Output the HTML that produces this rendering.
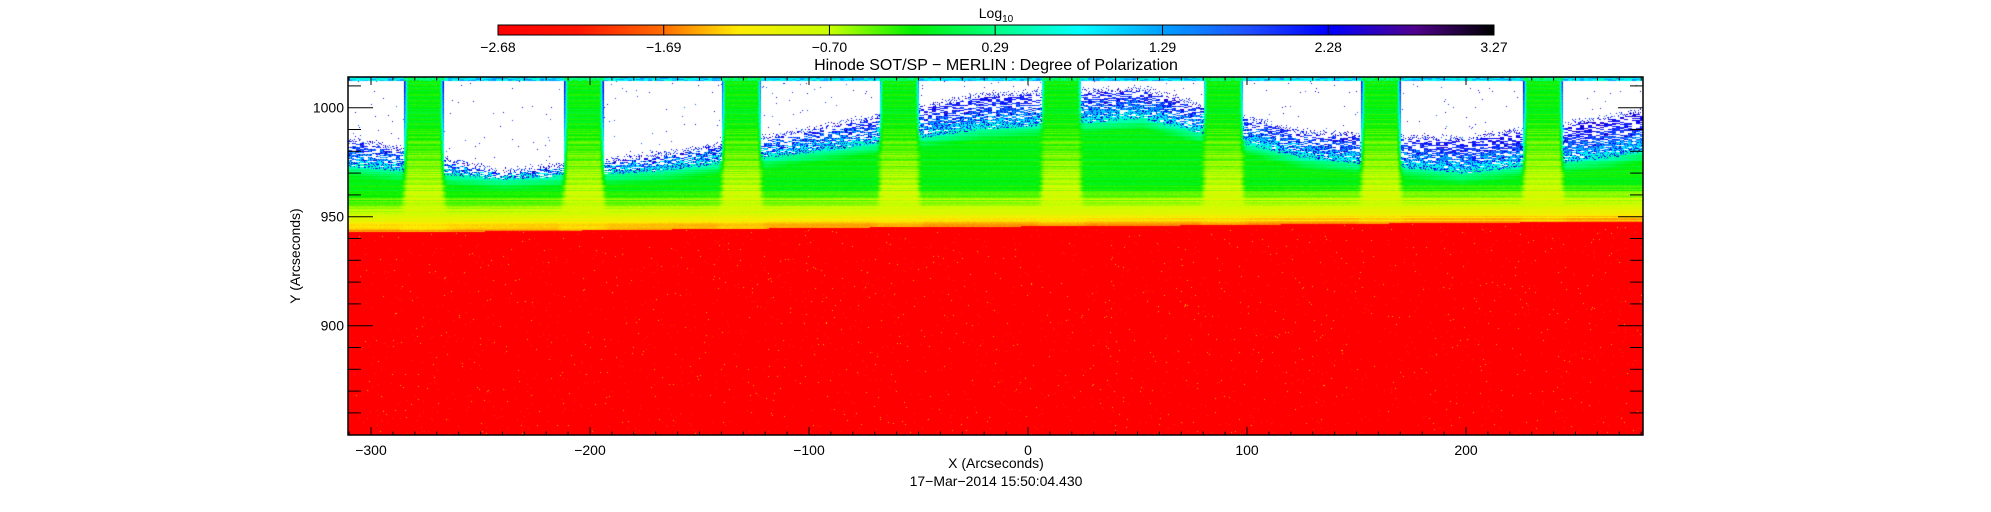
<!DOCTYPE html>
<html><head><meta charset="utf-8"><style>
html,body{margin:0;padding:0;background:#fff;}
#wrap{position:relative;width:1991px;height:512px;overflow:hidden;font-family:"Liberation Sans",sans-serif;color:#000;}
canvas{position:absolute;}
svg{position:absolute;left:0;top:0;}
</style></head><body>
<div id="wrap">
<canvas id="cbar" width="996" height="10" style="left:498px;top:25px"></canvas>
<canvas id="img" width="1295" height="358" style="left:348px;top:77px"></canvas>
<svg id="ov" width="1991" height="512"></svg>
</div>
<script>
// ---- data ----
const cbarTicks = [-2.68, -1.69, -0.70, 0.29, 1.29, 2.28, 3.27];
const xTicks = [-300, -200, -100, 0, 100, 200];
const yTicks = [900, 950, 1000];
const bandCenters = [-276, -203, -131, -59, 15, 89, 161, 235];
const bandHalfWidths = [9, 9, 9, 9, 9, 9, 9, 9];
const gapCenters = [-310, -240, -167, -95, -22, 52, 125, 198, 265, 281];
const gapGreenTops = [968, 962, 966, 975, 985, 990, 972, 965, 972, 975];
const gapWhiteStarts = [985, 970, 978, 990, 1005, 1008, 988, 985, 995, 998];
const boundaryX = [-310, -240, -150, -50, 50, 150, 281];
const boundaryY = [943, 943.5, 944.5, 945.5, 946, 947, 948];
const vMin = -2.68, vMax = 3.27;

// ---- axes ----
const PL = 348, PT = 77, PW = 1295, PH = 358;
function xPix(v){ return 1028 + 2.19 * v; }
function yPix(v){ return 107.7 + (1000 - v) * 2.18; }
function xVal(px){ return (px - 1028) / 2.19; }
function yVal(py){ return 1000 - (py - 107.7) / 2.18; }

const cmStops = [[-2.68,[255,0,0]],[-2.2,[255,20,0]],[-1.69,[255,110,0]],[-1.25,[255,235,0]],[-0.70,[200,255,0]],[-0.2,[0,240,0]],[0.29,[0,255,130]],[0.8,[0,255,255]],[1.29,[0,160,255]],[1.8,[30,80,255]],[2.28,[0,0,255]],[2.8,[80,0,140]],[3.27,[0,0,0]]];
function cmap(v){
  if(v<=cmStops[0][0]) return cmStops[0][1];
  for(let i=1;i<cmStops.length;i++){
    if(v<=cmStops[i][0]){const a=cmStops[i-1],b=cmStops[i];const t=(v-a[0])/(b[0]-a[0]);
      return [0,1,2].map(k=>Math.round(a[1][k]+(b[1][k]-a[1][k])*t));}
  }
  return cmStops[cmStops.length-1][1];
}
function interp(xs, ys, x){
  if(x<=xs[0]) return ys[0];
  for(let i=1;i<xs.length;i++) if(x<=xs[i]){const t=(x-xs[i-1])/(xs[i]-xs[i-1]);return ys[i-1]+(ys[i]-ys[i-1])*t;}
  return ys[ys.length-1];
}
function hash(a,b){let h=(a*374761393+b*668265263)|0;h=(h^(h>>>13))*1274126177|0;h=h^(h>>>16);return ((h>>>0)%100000)/100000;}
function smooth(e0,e1,x){const t=Math.min(1,Math.max(0,(x-e0)/(e1-e0)));return t*t*(3-2*t);}

(function(){
  const c=document.getElementById('cbar'),g=c.getContext('2d');
  for(let i=0;i<c.width;i++){const v=vMin+(vMax-vMin)*i/(c.width-1);const col=cmap(v);g.fillStyle=`rgb(${col})`;g.fillRect(i,0,1,c.height);}
})();

(function(){
  const c=document.getElementById('img'),g=c.getContext('2d');
  const im=g.createImageData(PW,PH),d=im.data;
  for(let py=0;py<PH;py++){
    const Y=yVal(py+PT);
    const rowN=hash(py,7)*0.3-0.15;
    for(let px=0;px<PW;px++){
      const X=xVal(px+PL);
      const b=interp(boundaryX,boundaryY,X);
      let col;
      if(Y<b){
        const r=hash(px,py+999);
        col = r>0.997 ? cmap(-1.5) : (r>0.99 ? cmap(-2.1) : cmap(-2.68));
      } else {
        const dd=Y-b;
        let w=0;
        for(let i=0;i<bandCenters.length;i++){
          const hw=bandHalfWidths[i]+Math.max(0,960-Y)*0.12;
          const dist=Math.abs(X-bandCenters[i]);
          w=Math.max(w,1-smooth(hw-2,hw+2,dist));
        }
        const gt=interp(gapCenters,gapGreenTops,X);
        const ws=interp(gapCenters,gapWhiteStarts,X);
        let gapV = dd<6 ? -1.55+dd*0.1 : -0.95+Math.min(1,(dd-6)/12)*0.8;
        if(Y>gt) gapV=-0.15+(Y-gt)*0.12;
        let bandV = dd<8 ? -1.45+dd*0.08 : -0.85+Math.min(1,(dd-8)/45)*0.7;
        let val=w*bandV+(1-w)*gapV+rowN+(hash(px,py)-0.5)*0.1;
        col=cmap(val);
        if(w<0.5){
          const seg=hash(Math.floor(px/4),py*3+1);
          if(Y>ws){
            const p=hash(px,py+50);
            if(Y>1012.3) col=cmap(0.5+seg*0.9);
            else if(p<0.005+0.35*Math.max(0,1-(Y-ws)/3)) col=cmap(1.6+seg*1.1);
            else col=[255,255,255];
          } else if(Y>gt+5){
            const f=(Y-gt-5)/Math.max(1,ws-gt-5);
            const p=hash(px,py+77);
            if(seg<f*0.6) col=[255,255,255];
            else if(p<0.3+f*0.4) col=cmap(1.3+seg*1.3);
          }
        } else if(Y>1012.3){ col=cmap(-0.2+hash(px,py)*0.8); }
      }
      const k=(py*PW+px)*4;d[k]=col[0];d[k+1]=col[1];d[k+2]=col[2];d[k+3]=255;
    }
  }
  g.putImageData(im,0,0);
})();

(function(){
  const s=document.getElementById('ov');const NS='http://www.w3.org/2000/svg';
  function el(t,a,txt){const e=document.createElementNS(NS,t);for(const k in a)e.setAttribute(k,a[k]);if(txt!==undefined)e.textContent=txt;s.appendChild(e);return e;}
  let e;
  e=el('rect',{x:498,y:25,width:996,height:10,fill:'none',stroke:'#000','stroke-width':1});
  
  
  cbarTicks.forEach((v,i)=>{
    const x=498+996*(v-vMin)/(vMax-vMin);
    el('line',{x1:x,y1:25,x2:x,y2:35,stroke:'#000','stroke-width':1});
    e=el('text',{x:x,y:52,'font-size':14,'text-anchor':'middle'},v.toFixed(2).replace('-','\u2212'));
    
    
  });
  e=el('text',{x:996,y:18,'font-size':14,'text-anchor':'middle'});
  e.innerHTML='Log<tspan font-size="10" dy="4">10</tspan>';
  
  
  e=el('text',{x:996,y:70,'font-size':16,'text-anchor':'middle'},'Hinode SOT/SP \u2212 MERLIN : Degree of Polarization');
  
  
  e=el('rect',{x:PL,y:PT,width:PW,height:PH,fill:'none',stroke:'#000','stroke-width':1.5});
  
  
  for(let v=-310;v<=280;v+=10){
    const x=xPix(v);if(x<PL||x>PL+PW)continue;
    const major=v%100===0;const L=major?8:3.5;
    el('line',{x1:x,y1:PT+PH,x2:x,y2:PT+PH-L,stroke:'#000','stroke-width':1});
    el('line',{x1:x,y1:PT,x2:x,y2:PT+L,stroke:'#000','stroke-width':1});
  }
  xTicks.forEach(v=>{
    e=el('text',{x:xPix(v),y:PT+PH+20,'font-size':14,'text-anchor':'middle'},String(v).replace('-','\u2212'));
    
    
  });
  for(let v=860;v<=1010;v+=10){
    const y=yPix(v);const major=v%50===0;const L=major?25:13;
    el('line',{x1:PL,y1:y,x2:PL+L,y2:y,stroke:'#000','stroke-width':1});
    el('line',{x1:PL+PW,y1:y,x2:PL+PW-L,y2:y,stroke:'#000','stroke-width':1});
  }
  yTicks.forEach(v=>{
    e=el('text',{x:PL-4,y:yPix(v)+5,'font-size':14,'text-anchor':'end'},String(v));
    
    
  });
  e=el('text',{x:996,y:468,'font-size':14,'text-anchor':'middle'},'X (Arcseconds)');
  
  
  e=el('text',{x:996,y:486,'font-size':14,'text-anchor':'middle'},'17\u2212Mar\u22122014 15:50:04.430');
  
  
  e=el('text',{x:300,y:256,'font-size':14,'text-anchor':'middle',transform:'rotate(-90 300 256)'},'Y (Arcseconds)');
  
  
})();
</script>
</body></html>
